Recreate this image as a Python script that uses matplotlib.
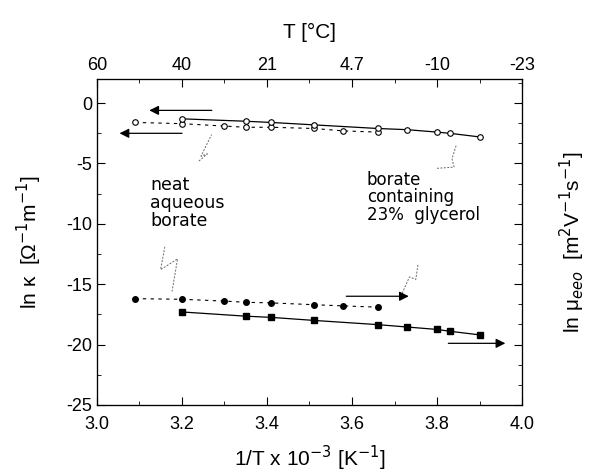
import matplotlib
matplotlib.use('Agg')
import matplotlib.pyplot as plt
from matplotlib.ticker import MultipleLocator, NullFormatter

plt.rcParams['font.family'] = ['Liberation Sans', 'DejaVu Sans']
plt.rcParams['axes.unicode_minus'] = False

# neat aqueous borate (dashed) / borate + 23% glycerol (solid)
x_neat_k = [3.09, 3.20, 3.30, 3.35, 3.41, 3.51, 3.58, 3.66]
y_neat_k = [-1.6, -1.7, -1.9, -2.0, -2.0, -2.1, -2.3, -2.4]
x_gly_k = [3.20, 3.35, 3.41, 3.51, 3.66, 3.73, 3.80, 3.83, 3.90]
y_gly_k = [-1.3, -1.5, -1.6, -1.8, -2.1, -2.2, -2.4, -2.5, -2.8]

x_neat_mu = [3.09, 3.20, 3.30, 3.35, 3.41, 3.51, 3.58, 3.66]
y_neat_mu = [-16.2, -16.25, -16.4, -16.5, -16.55, -16.7, -16.8, -16.9]
x_gly_mu = [3.20, 3.35, 3.41, 3.51, 3.66, 3.73, 3.80, 3.83, 3.90]
y_gly_mu = [-17.3, -17.65, -17.75, -18.0, -18.35, -18.55, -18.75, -18.9, -19.2]

top_ticks = [3.0, 3.2, 3.4, 3.6, 3.8, 4.0]
top_labels = ['60', '40', '21', '4.7', '-10', '-23']

fig = plt.figure(figsize=(5.9, 4.73), dpi=100)
ax = fig.add_axes([0.164, 0.144, 0.721, 0.689])

ax.plot(x_neat_k, y_neat_k, color='black', ls=(0, (3, 4)), lw=0.8,
        marker='o', ms=4, mfc='white', mec='black', mew=0.8)
ax.plot(x_gly_k, y_gly_k, color='black', ls='-', lw=0.9,
        marker='o', ms=4, mfc='white', mec='black', mew=0.8)
ax.plot(x_neat_mu, y_neat_mu, color='black', ls=(0, (3, 4)), lw=0.8,
        marker='o', ms=4, mfc='black', mec='black')
ax.plot(x_gly_mu, y_gly_mu, color='black', ls='-', lw=0.9,
        marker='s', ms=4, mfc='black', mec='black')

ax.set_xlim(3.0, 4.0)
ax.set_ylim(-25, 2)
ax.xaxis.set_major_locator(MultipleLocator(0.2))
ax.xaxis.set_minor_locator(MultipleLocator(0.1))
ax.yaxis.set_major_locator(MultipleLocator(5))
ax.yaxis.set_minor_locator(MultipleLocator(2.5))
ax.xaxis.set_major_formatter(matplotlib.ticker.FormatStrFormatter('%.1f'))
ax.tick_params(which='both', direction='in', labelsize=13, top=False)
ax.tick_params(which='major', length=6)
ax.tick_params(which='minor', length=3)
ax.tick_params(axis='x', pad=8)

axt = ax.twiny()
axt.set_xlim(3.0, 4.0)
axt.set_xticks(top_ticks)
axt.set_xticklabels(top_labels)
axt.xaxis.set_minor_locator(MultipleLocator(0.1))
axt.tick_params(which='both', direction='in', labelsize=13)
axt.tick_params(which='major', length=6)
axt.tick_params(which='minor', length=3)

axr = ax.twinx()
axr.set_ylim(-25, 2)
axr.yaxis.set_major_locator(MultipleLocator(5))
axr.yaxis.set_minor_locator(MultipleLocator(5 / 3))
axr.yaxis.set_major_formatter(NullFormatter())
axr.tick_params(which='both', direction='in')
axr.tick_params(which='major', length=6)
axr.tick_params(which='minor', length=3)

ax.set_xlabel('1/T x 10$^{-3}$ [K$^{-1}$]', fontsize=15, labelpad=8)
axt.set_xlabel('T [\u00b0C]', fontsize=15, labelpad=14)
ax.set_ylabel('ln \u03ba  [\u03a9$^{-1}$m$^{-1}$]', fontsize=15, labelpad=16)
axr.set_ylabel('ln \u03bc$_{eeo}$  [m$^{2}$V$^{-1}$s$^{-1}$]', fontsize=15,
               labelpad=22)

# arrows pointing to the axis each set belongs to
arrow = dict(arrowstyle='-|>', color='black', lw=0.9, mutation_scale=14)
ax.annotate('', xy=(3.117, -0.6), xytext=(3.277, -0.6), arrowprops=arrow)
ax.annotate('', xy=(3.047, -2.5), xytext=(3.207, -2.5), arrowprops=arrow)
ax.annotate('', xy=(3.74, -16.0), xytext=(3.58, -16.0), arrowprops=arrow)
ax.annotate('', xy=(3.967, -19.9), xytext=(3.82, -19.9), arrowprops=arrow)

# hand drawn zigzag pointers
zz = dict(color='dimgray', lw=0.7, ls=(0, (2, 1.5)))
ax.plot([3.24, 3.26, 3.245, 3.27], [-4.8, -4.2, -4.4, -2.6], **zz)
ax.plot([3.8, 3.84, 3.835, 3.845], [-5.4, -5.3, -4.6, -3.5], **zz)
ax.plot([3.16, 3.15, 3.19, 3.177], [-11.9, -13.8, -12.9, -15.6], **zz)
ax.plot([3.755, 3.75, 3.735, 3.715], [-13.4, -14.6, -14.4, -16.0], **zz)

ax.text(3.125, -8.3, 'neat\naqueous\nborate', fontsize=12.5,
        family='DejaVu Sans', linespacing=1.0, va='center', ha='left')
ax.text(3.635, -7.8, 'borate\ncontaining\n23%  glycerol', fontsize=12,
        family='DejaVu Sans', linespacing=0.95, va='center', ha='left')

plt.savefig('out.png', dpi=100)
